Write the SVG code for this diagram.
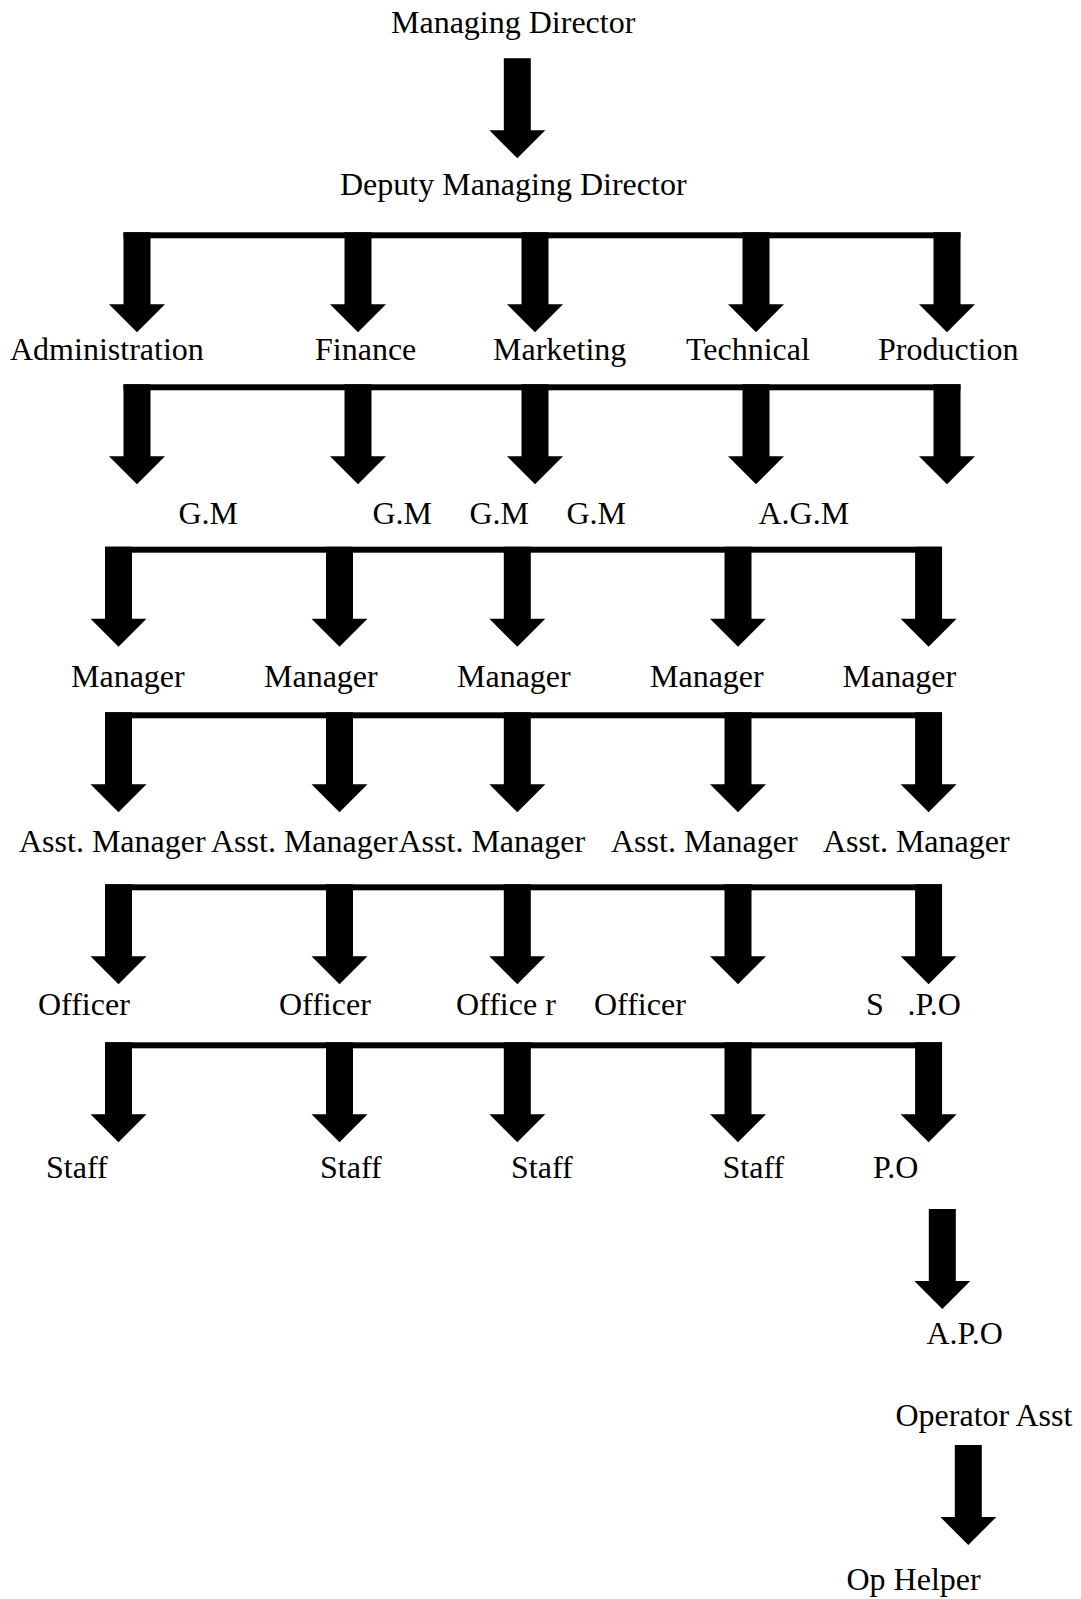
<svg xmlns="http://www.w3.org/2000/svg" xmlns:xlink="http://www.w3.org/1999/xlink" width="1081" height="1599" viewBox="0 0 1081 1599">
<style>
text{font-family:"Liberation Serif","Times New Roman",serif;font-size:32px;fill:#000}
.bar{fill:#000}
</style>
<defs>
<path id="arr" d="M-13.5,0 h27 v72 h14.5 l-28,28 l-28,-28 h14.5 z" fill="#000"/>
</defs>
<rect width="1081" height="1599" fill="#fff"/>
<g id="connectors">
<use xlink:href="#arr" x="517.3" y="58.3"/>
<rect class="bar" x="123.5" y="232.3" width="837" height="6"/>
<use xlink:href="#arr" x="137" y="232.3"/><use xlink:href="#arr" x="358" y="232.3"/><use xlink:href="#arr" x="535" y="232.3"/><use xlink:href="#arr" x="756" y="232.3"/><use xlink:href="#arr" x="947" y="232.3"/>
<rect class="bar" x="123.5" y="384.3" width="837" height="6"/>
<use xlink:href="#arr" x="137" y="384.3"/><use xlink:href="#arr" x="358" y="384.3"/><use xlink:href="#arr" x="535" y="384.3"/><use xlink:href="#arr" x="756" y="384.3"/><use xlink:href="#arr" x="947" y="384.3"/>
<rect class="bar" x="105" y="546.7" width="837" height="6"/>
<use xlink:href="#arr" x="118.5" y="546.7"/><use xlink:href="#arr" x="339.5" y="546.7"/><use xlink:href="#arr" x="517.3" y="546.7"/><use xlink:href="#arr" x="738" y="546.7"/><use xlink:href="#arr" x="928.6" y="546.7"/>
<rect class="bar" x="105" y="712.3" width="837" height="6"/>
<use xlink:href="#arr" x="118.5" y="712.3"/><use xlink:href="#arr" x="339.5" y="712.3"/><use xlink:href="#arr" x="517.3" y="712.3"/><use xlink:href="#arr" x="738" y="712.3"/><use xlink:href="#arr" x="928.6" y="712.3"/>
<rect class="bar" x="105" y="884.3" width="837" height="6"/>
<use xlink:href="#arr" x="118.5" y="884.3"/><use xlink:href="#arr" x="339.5" y="884.3"/><use xlink:href="#arr" x="517.3" y="884.3"/><use xlink:href="#arr" x="738" y="884.3"/><use xlink:href="#arr" x="928.6" y="884.3"/>
<rect class="bar" x="105" y="1042.3" width="837" height="6"/>
<use xlink:href="#arr" x="118.5" y="1042.3"/><use xlink:href="#arr" x="339.5" y="1042.3"/><use xlink:href="#arr" x="517.3" y="1042.3"/><use xlink:href="#arr" x="738" y="1042.3"/><use xlink:href="#arr" x="928.6" y="1042.3"/>
<use xlink:href="#arr" x="942.3" y="1209"/>
<use xlink:href="#arr" x="968.3" y="1445"/>
</g>
<g id="n-md"><text x="391" y="33">Managing Director</text></g>
<g id="n-dmd"><text x="340" y="195">Deputy Managing Director</text></g>
<g id="n-admin"><text x="10" y="360">Administration</text></g>
<g id="n-finance"><text x="315" y="360">Finance</text></g>
<g id="n-marketing"><text x="493" y="360">Marketing</text></g>
<g id="n-technical"><text x="686" y="360">Technical</text></g>
<g id="n-production"><text x="878" y="360">Production</text></g>
<g id="n-gm1"><text x="178.5" y="524">G.M</text></g>
<g id="n-gm2"><text x="372.5" y="524">G.M</text></g>
<g id="n-gm3"><text x="469.5" y="524">G.M</text></g>
<g id="n-gm4"><text x="566.5" y="524">G.M</text></g>
<g id="n-agm"><text x="758.5" y="524">A.G.M</text></g>
<g id="n-mgr1"><text x="71" y="687">Manager</text></g>
<g id="n-mgr2"><text x="264" y="687">Manager</text></g>
<g id="n-mgr3"><text x="457" y="687">Manager</text></g>
<g id="n-mgr4"><text x="650" y="687">Manager</text></g>
<g id="n-mgr5"><text x="842.5" y="687">Manager</text></g>
<g id="n-am1"><text x="19" y="851.5">Asst. Manager</text></g>
<g id="n-am2"><text x="211" y="851.5">Asst. Manager</text></g>
<g id="n-am3"><text x="398.5" y="851.5">Asst. Manager</text></g>
<g id="n-am4"><text x="611" y="851.5">Asst. Manager</text></g>
<g id="n-am5"><text x="823" y="851.5">Asst. Manager</text></g>
<g id="n-off1"><text x="38" y="1015">Officer</text></g>
<g id="n-off2"><text x="279" y="1015">Officer</text></g>
<g id="n-off3"><text x="456" y="1015">Office r</text></g>
<g id="n-off4"><text x="594" y="1015">Officer</text></g>
<g id="n-spo"><text y="1015"><tspan x="866">S</tspan><tspan x="907.5">.P.O</tspan></text></g>
<g id="n-staff1"><text x="46" y="1178">Staff</text></g>
<g id="n-staff2"><text x="320" y="1178">Staff</text></g>
<g id="n-staff3"><text x="511" y="1178">Staff</text></g>
<g id="n-staff4"><text x="722.5" y="1178">Staff</text></g>
<g id="n-po"><text x="873" y="1178">P.O</text></g>
<g id="n-apo"><text x="926.5" y="1344">A.P.O</text></g>
<g id="n-opasst"><text x="895.5" y="1425.5">Operator Asst</text></g>
<g id="n-ophelper"><text x="846.5" y="1590">Op Helper</text></g>
</svg>
